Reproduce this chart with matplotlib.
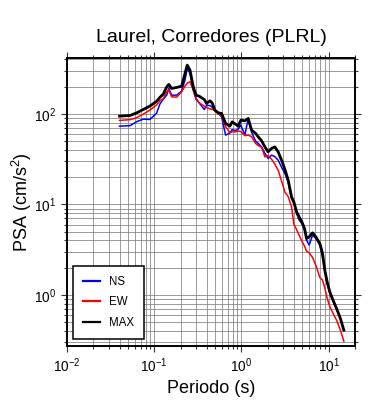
import matplotlib
matplotlib.use("Agg")
import matplotlib.pyplot as plt
from matplotlib.ticker import LogLocator, NullFormatter

plt.rcParams['font.family'] = ['Liberation Sans', 'DejaVu Sans']
plt.rcParams['mathtext.fontset'] = 'custom'
plt.rcParams['mathtext.rm'] = 'Liberation Sans'
plt.rcParams['mathtext.it'] = 'Liberation Sans:italic'
plt.rcParams['mathtext.bf'] = 'Liberation Sans:bold'

# periods (s) and pseudo-spectral accelerations (cm/s^2)
period = [0.040, 0.053, 0.063, 0.075, 0.089, 0.106, 0.116, 0.127, 0.139, 0.147,
          0.158, 0.181, 0.206, 0.225, 0.239, 0.257, 0.280, 0.301, 0.327, 0.374,
          0.398, 0.435, 0.461, 0.495, 0.541, 0.591, 0.658, 0.736, 0.782, 0.855,
          0.916, 0.984, 1.094, 1.193, 1.305, 1.451, 1.554, 1.700, 1.854, 2.02,
          2.21, 2.41, 2.63, 2.93, 3.14, 3.43, 3.75, 3.98, 4.28, 4.58,
          4.92, 5.28, 5.57, 5.97, 6.52, 7.11, 7.91, 8.49, 9.02, 9.59,
          10.3, 11.2, 12.3, 13.6, 14.9]

psa_ns = [73.1, 74.1, 82, 87.4, 86.7, 101, 128, 145, 160.7, 192,
          160.7, 160.7, 178, 235.6, 317, 279, 182.6, 144.2, 132.1, 111.8,
          124.8, 123.2, 118.6, 109.9, 101, 92.7, 58.2, 61.3, 67, 65.3,
          67.8, 75, 58.2, 88.5, 62.8, 50, 47.1, 43.2, 36.6, 32.2,
          35, 33.7, 30.8, 24.9, 22, 17.6, 11.6, 10.3, 7.96, 6.72,
          6.17, 5.2, 4.03, 3.56, 4.58, 4.22, 3.56, 2.64, 1.80, 1.34,
          1.04, 0.867, 0.70, 0.55, 0.41]

psa_ew = [84.6, 86.3, 90.8, 99.3, 109.9, 124.8, 139.2, 147.2, 173.6, 184.9,
          154.2, 152.8, 175, 202, 218.3, 225.6, 182.6, 148.9, 132.1, 121.6,
          117, 113.5, 112.1, 108.4, 100.5, 94.3, 72, 62, 63.2, 63.2,
          64.7, 63.6, 57.4, 58.2, 56, 47.1, 44.6, 42.9, 33.5, 34.7,
          31.6, 27.9, 23.9, 17.2, 13.7, 12.2, 9.41, 6.07, 5.27, 4.58,
          3.94, 3.47, 3.05, 2.92, 2.60, 2.14, 1.56, 1.46, 1.19, 0.924,
          0.745, 0.627, 0.529, 0.41, 0.31]

psa_max = [94.3, 96, 102.6, 111.8, 121.6, 137, 151.8, 165, 198.6, 211,
           190.6, 195.4, 202, 279, 345, 303.5, 198.6, 160.7, 156.7, 144.2,
           130.3, 139.2, 132.1, 109.9, 102.6, 101, 78.4, 73.1, 81.6, 76.9,
           73.1, 85.1, 83.7, 89, 66.1, 60.8, 55.8, 50.4, 43.2, 38.1,
           41.5, 43.2, 38.1, 29.5, 24.5, 18.5, 12.1, 10.7, 8.28, 7.29,
           6.42, 5.43, 4.21, 4.39, 4.86, 4.39, 3.71, 2.88, 1.88, 1.40,
           1.08, 0.878, 0.711, 0.552, 0.410]

fig = plt.figure(figsize=(3.9, 4.0), dpi=100)
ax = fig.add_axes([67 / 390, 1 - 346 / 400, 288 / 390, 287.7 / 400])

ax.plot(period, psa_ns, color='blue', lw=1.1, label='NS', zorder=3)
ax.plot(period, psa_ew, color='red', lw=1.1, label='EW', zorder=3)
ax.plot(period, psa_max, color='black', lw=2.0, label='MAX', zorder=4)

ax.set_xscale('log')
ax.set_yscale('log')
ax.set_xlim(0.01, 20)
ax.set_ylim(0.274, 410)

for axis in (ax.xaxis, ax.yaxis):
    axis.set_major_locator(LogLocator(base=10))
    axis.set_minor_locator(LogLocator(base=10, subs=range(2, 10)))
    axis.set_minor_formatter(NullFormatter())

ax.grid(True, which='both', color='0.5', lw=0.55)
ax.set_axisbelow(True)

ax.tick_params(which='both', direction='out', top=True, right=True,
               labelsize=9.8, width=0.8, color='0.2')
ax.tick_params(which='major', length=4)
ax.tick_params(which='minor', length=2.5)
for sp in ax.spines.values():
    sp.set_linewidth(1.4)

ax.set_title('Laurel, Corredores (PLRL)', fontsize=14, pad=12)
ax.set_xlabel('Periodo (s)', fontsize=13, labelpad=3.5)
ax.set_ylabel('PSA (cm/s$^2$)', fontsize=13, labelpad=0)

leg = ax.legend(loc='lower left', bbox_to_anchor=(0.021, 0.024), borderaxespad=0,
                fontsize=8.3, handlelength=1.4, handletextpad=0.8,
                labelspacing=0.72, borderpad=0.9, fancybox=False,
                framealpha=1, edgecolor='black')
leg.get_frame().set_linewidth(1.1)
for line in leg.get_lines():
    line.set_linewidth(1.6)

fig.savefig('out.png', dpi=100)
